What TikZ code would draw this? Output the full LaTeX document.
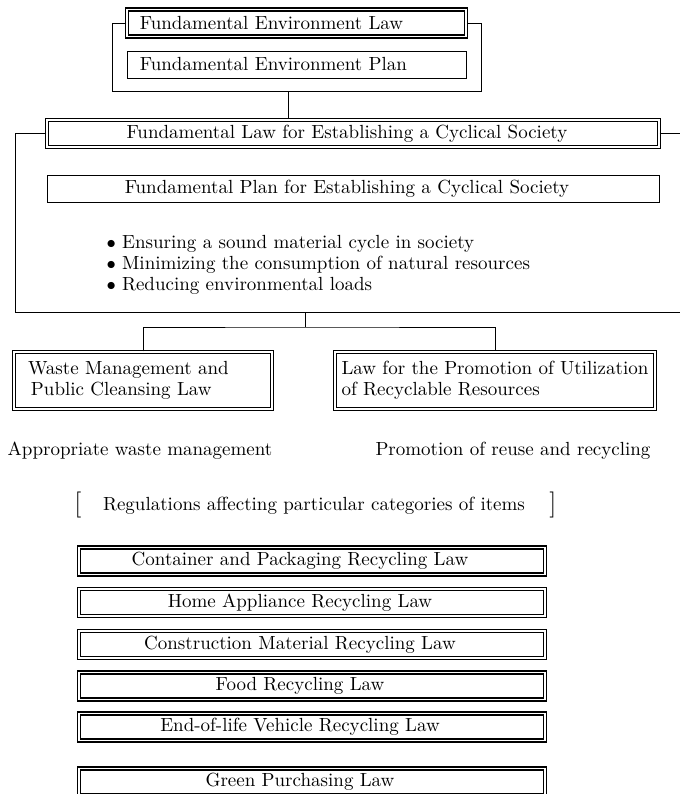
\documentclass[tikz,border=0pt]{standalone}
\usetikzlibrary{positioning}

\tikzset{
  lawbox/.style={draw, double, double distance=0.7pt, line width=0.7pt, minimum height=13.5pt, inner ysep=0pt},
  planbox/.style={draw, line width=0.5pt, minimum height=13.5pt, inner ysep=0pt},
  listbox/.style={lawbox, minimum width=233pt, execute at end node={\hspace*{12pt}}},
}

\begin{document}
\begin{tikzpicture}[x=0.5pt, y=-0.5pt, line width=0.5pt,
    every node/.style={font=\fontsize{9.5}{10.5}\selectfont}]
    \useasboundingbox (0,0) rectangle (680,794);
    \clip (0,0) rectangle (680,794);

    % basic laws
    \node[lawbox, text width=156.5pt, inner xsep=6.5pt, align=left] (fel) at (296.5,23) {Fundamental Environment Law};
    \node[planbox, text width=156.5pt, inner xsep=6.5pt, align=left] (fep) at (296.5,64.5) {Fundamental Environment Plan};
    \node[lawbox, minimum width=306pt] (flc) at (353,133.5) {Fundamental Law for Establishing a Cyclical Society\hspace*{6pt}};
    \node[planbox, minimum width=306pt] (fpc) at (353,188.5) {Fundamental Plan for Establishing a Cyclical Society\hspace*{6pt}};

    \node[anchor=base west, inner sep=0pt] (aim1) at (106,248) {$\bullet$ Ensuring a sound material cycle in society};
    \node[anchor=base west, inner sep=0pt] (aim2) at (106,269) {$\bullet$ Minimizing the consumption of natural resources};
    \node[anchor=base west, inner sep=0pt] (aim3) at (106,290) {$\bullet$ Reducing environmental loads};

    % general laws
    \node[lawbox, text width=115pt, inner xsep=7pt, align=left, minimum height=28.5pt] (wm) at (143,380.5) {Waste Management and\\\hspace*{1.5pt}Public Cleansing Law};
    \node[lawbox, minimum width=158pt, align=left, minimum height=28.5pt] (lpu) at (495,380.5) {Law for the Promotion of Utilization\\of Recyclable Resources};

    \node[anchor=base] (wmaim) at (140,455) {Appropriate waste management};
    \node[anchor=base] (lpuaim) at (513,455) {Promotion of reuse and recycling};

    \node[anchor=base] (regs) at (314,510) {Regulations affecting particular categories of items};
    \node[font=\fontsize{13}{13}\selectfont] (lbrak) at (78,505) {[};
    \node[font=\fontsize{13}{13}\selectfont] (rbrak) at (553,505) {]};

    % item laws
    \node[listbox] (pack) at (312,561) {Container and Packaging Recycling Law};
    \node[listbox] (home) at (312,602.5) {Home Appliance Recycling Law};
    \node[listbox] (build) at (312,644.5) {Construction Material Recycling Law};
    \node[listbox] (food) at (312,686) {Food Recycling Law};
    \node[listbox] (car) at (312,727) {End-of-life Vehicle Recycling Law};
    \node[listbox] (green) at (312,782) {Green Purchasing Law};

    % connectors
    \draw (fel.west) -| (112,91) -| (481,23) -- (fel.east);
    \coordinate (envjoin) at (288,91);
    \draw (envjoin) -- (envjoin |- flc.north);

    \draw (flc.west) -| (15,312) -- (700,312);
    \draw (flc.east) -- ++(40,0);
    \coordinate (cycjoin) at (305,312);
    \coordinate (split) at (305,327);
    \draw (cycjoin) -- (split);
    \draw (wm.north) |- (split) -| (lpu.north);
\end{tikzpicture}
\end{document}
